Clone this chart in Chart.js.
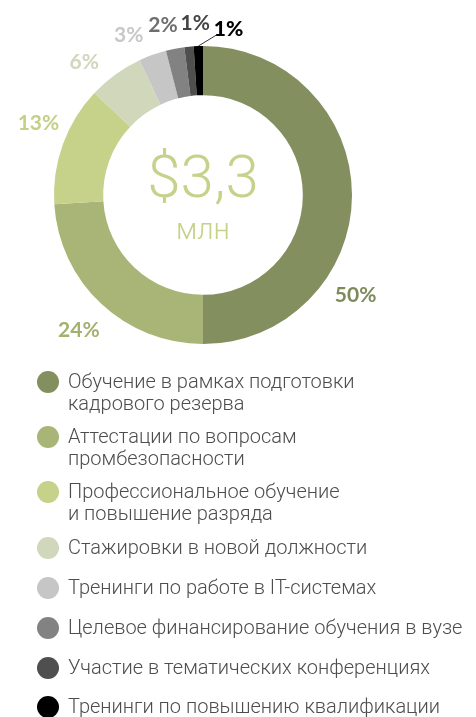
<!DOCTYPE html>
<html>
<head>
<meta charset="utf-8">
<script src="https://cdn.jsdelivr.net/npm/chart.js@4.4.1/dist/chart.umd.min.js"></script>
<style>
  html, body { margin: 0; padding: 0; background: #ffffff; }
  body { width: 476px; height: 717px; position: relative; overflow: hidden; font-family: Roboto, "Noto Sans", sans-serif; }
  #chartWrap { position: absolute; left: 0; top: 0; width: 476px; height: 360px; }
  #legend { position: absolute; left: 0; top: 0; width: 476px; height: 717px; margin: 0; padding: 0; list-style: none; }
  #legend li { position: absolute; left: 37px; padding-left: 31px; font-size: 20px; line-height: 22px; font-weight: 300; color: #4d4d4d; white-space: nowrap; }
  #legend li .dot { position: absolute; left: 0; top: 0.5px; width: 22px; height: 22px; border-radius: 50%; }
</style>
</head>
<body>
<div id="chartWrap"><canvas id="c" width="476" height="360"></canvas></div>
<ul id="legend"></ul>
<script>
// ---- data ----
const categories = [
  ["Обучение в рамках подготовки", "кадрового резерва"],
  ["Аттестации по вопросам", "промбезопасности"],
  ["Профессиональное обучение", "и повышение разряда"],
  ["Стажировки в новой должности"],
  ["Тренинги по работе в IT-системах"],
  ["Целевое финансирование обучения в вузе"],
  ["Участие в тематических конференциях"],
  ["Тренинги по повышению квалификации"]
];
const shares = [50, 24, 13, 6, 3, 2, 1, 1];
const percentLabels = ["50%", "24%", "13%", "6%", "3%", "2%", "1%", "1%"];
const centerValue = "$3,3";
const centerUnit = "млн";

// ---- styles ----
const sliceColors = ["#848f5f", "#a8b577", "#c6d18a", "#d0d7bb", "#c6c6c6", "#828282", "#4f4f4f", "#000000"];
const labelColors = ["#7e8a59", "#a3b070", "#c4cf87", "#d0d7bb", "#c8c8c8", "#6e6e6e", "#444444", "#000000"];
// per-label angular offset (deg) from slice mid-angle, and radial distance from center
const labelAngleOffset = [33, -0.5, 4.1, -5.6, -5, -2.4, 2.8, 10.5];
const labelRadius = [182, 183, 180, 179, 177, 175, 173, 169];
// first-line baseline of each legend entry (px from page top)
const legendBaselines = [388, 443, 498, 554, 594, 634, 674, 713];

const outerLabels = {
  id: 'outerLabels',
  afterDatasetsDraw(chart) {
    const ctx = chart.ctx;
    const meta = chart.getDatasetMeta(0);
    ctx.save();
    ctx.textAlign = 'center';
    ctx.textBaseline = 'middle';
    meta.data.forEach((arc, i) => {
      const p = arc.getProps(['x', 'y', 'startAngle', 'endAngle', 'outerRadius'], true);
      const mid = (p.startAngle + p.endAngle) / 2 + labelAngleOffset[i] * Math.PI / 180;
      const r = labelRadius[i] * p.outerRadius / 149;
      const lx = p.x + Math.cos(mid) * r;
      const ly = p.y + Math.sin(mid) * r;
      ctx.font = (i === 7 ? '900 ' : '700 ') + '21px Lato, Roboto, sans-serif';
      ctx.fillStyle = labelColors[i];
      ctx.fillText(percentLabels[i], lx, ly + 1);
      if (i === 7) {
        const m0 = (p.startAngle + p.endAngle) / 2;
        const ax = p.x + Math.cos(m0) * p.outerRadius;
        const ay = p.y + Math.sin(m0) * p.outerRadius;
        ctx.beginPath();
        ctx.strokeStyle = '#000';
        ctx.lineWidth = 0.8;
        ctx.moveTo(ax, ay);
        ctx.lineTo(lx - 12, ly + 7);
        ctx.stroke();
      }
    });
    ctx.restore();
  }
};

const centerText = {
  id: 'centerText',
  afterDatasetsDraw(chart) {
    const ctx = chart.ctx;
    const arc = chart.getDatasetMeta(0).data[0];
    const cx = arc.x, cy = arc.y;
    ctx.save();
    ctx.textAlign = 'center';
    ctx.textBaseline = 'alphabetic';
    ctx.fillStyle = '#c6d18a';
    ctx.font = '300 60px Roboto, sans-serif';
    ctx.fillText(centerValue, cx, cy + 2);
    ctx.font = '300 29px Roboto, sans-serif';
    ctx.fillText(centerUnit, cx, cy + 44);
    ctx.restore();
  }
};

new Chart(document.getElementById('c'), {
  type: 'doughnut',
  data: {
    labels: categories,
    datasets: [{
      data: shares,
      backgroundColor: sliceColors,
      borderWidth: 0,
      hoverOffset: 0
    }]
  },
  options: {
    responsive: false,
    animation: false,
    cutout: '67%',
    layout: { padding: { left: 54, right: 124, top: 46, bottom: 16 } },
    plugins: { legend: { display: false }, tooltip: { enabled: false } }
  },
  plugins: [outerLabels, centerText]
});

// ---- HTML legend built from the same arrays ----
const legendEl = document.getElementById('legend');
categories.forEach((lines, i) => {
  const li = document.createElement('li');
  li.style.top = (legendBaselines[i] - 18) + 'px';
  const dot = document.createElement('span');
  dot.className = 'dot';
  dot.style.background = sliceColors[i];
  li.appendChild(dot);
  lines.forEach((t, k) => {
    if (k) li.appendChild(document.createElement('br'));
    li.appendChild(document.createTextNode(t));
  });
  legendEl.appendChild(li);
});
</script>
</body>
</html>
